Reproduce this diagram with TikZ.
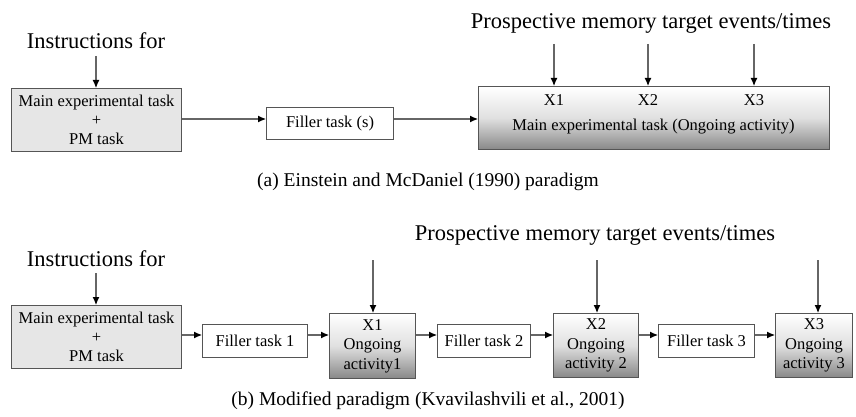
\documentclass[tikz,border=0pt]{standalone}
\usepackage{fontspec}
\setmainfont{Liberation Serif}
\usetikzlibrary{arrows.meta,calc}
\definecolor{boxline}{HTML}{555555}
\definecolor{arrline}{HTML}{666666}
\definecolor{mainfill}{HTML}{E6E6E6}
\definecolor{gradmid}{HTML}{E0E0E0}
\definecolor{gradbot}{HTML}{888888}
\begin{document}
\begin{tikzpicture}[x=1pt,y=-1pt,
  bigtxt/.style={font=\fontsize{22.5}{26}\selectfont, inner sep=0pt},
  captxt/.style={font=\fontsize{19.5}{23}\selectfont, inner sep=0pt},
  boxtxt/.style={font=\fontsize{16.5}{19.5}\selectfont, inner sep=0pt, align=center},
  mainbox/.style={draw=boxline, fill=mainfill, line width=1pt, inner sep=0pt, anchor=north west, align=center, font=\fontsize{16.5}{19}\selectfont},
  fillbox/.style={draw=boxline, fill=white, line width=1pt, inner sep=0pt, anchor=north west, align=center, font=\fontsize{16.5}{19.5}\selectfont},
  gradbox/.style={draw=boxline, top color=white, bottom color=gradbot, middle color=gradmid, line width=1pt, inner sep=0pt, anchor=north west, align=center, font=\fontsize{16.5}{19.5}\selectfont},
  arr/.style={draw=arrline, line width=1.1pt, -{Latex[length=8pt,width=7pt,color=black]}}
]
\useasboundingbox (0,0) rectangle (856,417);

% ---------- (a) ----------
\node[bigtxt] (instrA) at (96,41) {Instructions for};
\node[bigtxt] (prospA) at (651,23) {Prospective memory target events/times};
\node[mainbox, minimum width=170pt, minimum height=63pt] (mainA) at (11,88) {Main experimental task\\+\\PM task};
\node[fillbox, minimum width=127pt, minimum height=32pt] (fillA) at (266,107) {Filler task (s)};
\node[gradbox, minimum width=351pt, minimum height=63pt] (bigA) at (478,86) {};
\node[boxtxt] (xa1) at (554,100) {X1};
\node[boxtxt] (xa2) at (648,100) {X2};
\node[boxtxt] (xa3) at (754,100) {X3};
\node[boxtxt] (bigAtxt) at (653.5,127) {Main experimental task (Ongoing activity)};
\node[captxt] (capA) at (428,182) {(a) Einstein and McDaniel (1990) paradigm};

\coordinate (rowA) at (0,119);
\coordinate (ta1) at (554,44);
\coordinate (ta2) at (648,44);
\coordinate (ta3) at (754,44);
\coordinate (instrAend) at (96,56);

\draw[arr] (instrAend) -- (instrAend |- mainA.north);
\draw[arr] (mainA.east |- rowA) -- (fillA.west |- rowA);
\draw[arr] (fillA.east |- rowA) -- (bigA.west |- rowA);
\draw[arr] (ta1) -- (ta1 |- bigA.north);
\draw[arr] (ta2) -- (ta2 |- bigA.north);
\draw[arr] (ta3) -- (ta3 |- bigA.north);

% ---------- (b) ----------
\node[bigtxt] (instrB) at (96,259) {Instructions for};
\node[bigtxt] (prospB) at (595,235) {Prospective memory target events/times};
\node[mainbox, minimum width=170pt, minimum height=63pt] (mainB) at (11,305) {Main experimental task\\+\\PM task};
\node[fillbox, minimum width=105pt, minimum height=33pt] (f1) at (202,324) {Filler task 1};
\node[gradbox, minimum width=86pt, minimum height=65pt] (xb1) at (329,313) {X1\\Ongoing\\activity1};
\node[fillbox, minimum width=93pt, minimum height=33pt] (f2) at (437,324) {Filler task 2};
\node[gradbox, minimum width=85pt, minimum height=64pt] (xb2) at (553,313) {X2\\Ongoing\\activity 2};
\node[fillbox, minimum width=96pt, minimum height=33pt] (f3) at (658,324) {Filler task 3};
\node[gradbox, minimum width=77pt, minimum height=64pt] (xb3) at (775,313) {X3\\Ongoing\\activity 3};
\node[captxt] (capB) at (428,401) {(b) Modified paradigm (Kvavilashvili et al., 2001)};

\coordinate (rowB) at (0,335);
\coordinate (instrBend) at (96,273);
\coordinate (tb1) at (373,260);
\coordinate (tb2) at (597,260);
\coordinate (tb3) at (818,260);

\draw[arr] (instrBend) -- (instrBend |- mainB.north);
\draw[arr] (mainB.east |- rowB) -- (f1.west |- rowB);
\draw[arr] (f1.east |- rowB) -- (xb1.west |- rowB);
\draw[arr] (xb1.east |- rowB) -- (f2.west |- rowB);
\draw[arr] (f2.east |- rowB) -- (xb2.west |- rowB);
\draw[arr] (xb2.east |- rowB) -- (f3.west |- rowB);
\draw[arr] (f3.east |- rowB) -- (xb3.west |- rowB);
\draw[arr] (tb1) -- (tb1 |- xb1.north);
\draw[arr] (tb2) -- (tb2 |- xb2.north);
\draw[arr] (tb3) -- (tb3 |- xb3.north);
\end{tikzpicture}
\end{document}
